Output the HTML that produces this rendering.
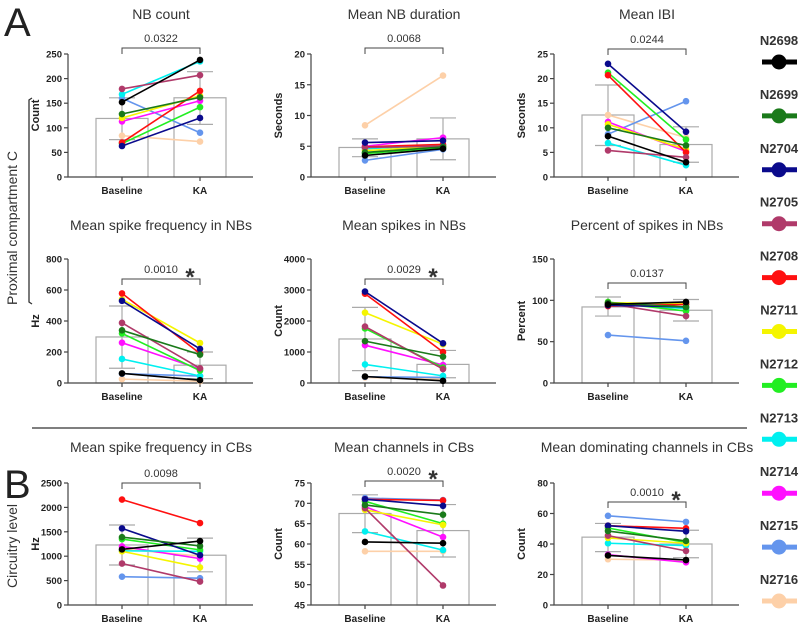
<!DOCTYPE html>
<html><head><meta charset="utf-8"><style>
html,body{margin:0;padding:0;background:#fff;}
svg{display:block;font-family:"Liberation Sans",sans-serif;}
</style></head><body>
<div style="position:relative;width:800px;height:623px">
<svg id="fig" width="800" height="623" viewBox="0 0 800 623" style="position:absolute;left:0;top:0">
<text x="4" y="36" font-size="40" fill="#222">A</text>
<text x="4" y="498" font-size="40" fill="#222">B</text>
<line x1="32" y1="428" x2="747" y2="428" stroke="#333" stroke-width="1.3"/>
<text transform="translate(17,228) rotate(-90)" text-anchor="middle" font-size="14" fill="#333">Proximal compartment C</text>
<path d="M32 98 L29 100 V302 L32 304" stroke="#333" stroke-width="1.3" fill="none"/>
<text transform="translate(17,546) rotate(-90)" text-anchor="middle" font-size="14" fill="#333">Circuitry level</text>
</svg></div>
<script>
const names=["N2698","N2699","N2704","N2705","N2708","N2711","N2712","N2713","N2714","N2715","N2716"];
const colors=["#000000","#1a7a1a","#0a0a8c","#b03a6a","#ff1010","#f5f500","#22ee22","#00f0f0","#ff10ff","#6495ed","#fdd0a8"];
const titles=["NB count","Mean NB duration","Mean IBI","Mean spike frequency in NBs","Mean spikes in NBs","Percent of spikes in NBs","Mean spike frequency in CBs","Mean channels in CBs","Mean dominating channels in CBs"];
const yTitles=["Count","Seconds","Seconds","Hz","Count","Percent","Hz","Count","Count"];
const pvals=["0.0322","0.0068","0.0244","0.0010","0.0029","0.0137","0.0098","0.0020","0.0010"];
const stars=[false,false,false,true,true,false,false,true,true];
const yMin=[0,0,0,0,0,0,0,45,0];
const yMax=[250,20,25,800,4000,150,2500,75,80];
const yStep=[50,5,5,200,1000,50,500,5,20];
const baseVals=[
 [152,128,63,179,70,120,68,168,113,160,84],
 [3.5,4.0,5.6,4.8,4.9,4.3,3.8,4.6,5.0,2.7,8.4],
 [8.3,10,23,5.4,20.7,10.7,21.2,6.9,11.2,8.7,12.6],
 [62,340,530,388,578,540,320,155,260,60,25],
 [210,1350,2950,1820,2880,2270,1760,600,1220,200,180],
 [95,97,94,96,93,97,98,96,95,58,96],
 [1140,1390,1570,850,2160,1100,1350,1110,1200,580,1150],
 [60.5,69.6,71,68.8,71,68.4,70.5,63.1,69.2,71.3,58.2],
 [32.5,48.5,52,45.5,52,44,50.5,40.5,33,58.5,30]];
const kaVals=[
 [238,162,120,207,175,165,142,235,155,90,72],
 [4.6,4.9,5.9,5.0,5.3,5.0,4.8,5.2,6.4,4.5,16.5],
 [3.0,6.4,9.2,4.0,5.0,5.6,7.6,2.4,5.2,15.4,8.0],
 [18,183,220,95,190,258,80,45,90,45,12],
 [70,850,1280,450,1000,1250,500,230,580,180,120],
 [98,92,92,81,95,96,87,90,96,51,95],
 [1310,1210,1020,480,1680,770,1130,1100,950,550,1000],
 [60.2,67.2,69.4,49.8,70.7,64.7,65,58.5,61.7,70.8,58.2],
 [29.5,42,48.3,35.5,50.3,40.5,41,39,28,54.5,29.5]];
const barMeans=[[119,161],[4.8,6.2],[12.6,6.6],[297,115],[1420,600],[92,88],[1230,1020],[67.5,63.3],[44.5,40]];
const errLo=[[76,107],[3.3,2.8],[6.4,3.0],[95,28],[400,170],[81,75],[820,680],[62.8,56.8],[35,31]];
const errHi=[[161,214],[6.2,9.6],[18.7,10.2],[497,200],[2440,1050],[104,101],[1640,1370],[72.1,69.7],[53.5,49]];

const NS="http://www.w3.org/2000/svg";
const svg=document.getElementById("fig");
function mk(tag,attrs,parent,text){const e=document.createElementNS(NS,tag);for(const k in attrs)e.setAttribute(k,attrs[k]);if(text!==undefined)e.textContent=text;(parent||svg).appendChild(e);return e;}

const colX=[68,311,554];
const rowTop=[54,259,483], rowBot=[177,383,605], titleY=[19,230,452];
const brY=[[48,48,49],[279,279,283],[483,481,502]];

for(let p=0;p<9;p++){
 const r=Math.floor(p/3),c=p%3;
 const ax=colX[c],top=rowTop[r],bot=rowBot[r];
 const g=mk("g",{},svg);
 
 
 const y=v=>bot-(v-yMin[p])/(yMax[p]-yMin[p])*(bot-top);
 const xs=[ax+54,ax+132];
 const t=mk("text",{x:ax+93,y:titleY[r],"text-anchor":"middle","font-size":"14",fill:"#333"},g,titles[p]);
 
 
 for(let i=0;i<2;i++){
  const b=mk("rect",{x:xs[i]-26,y:y(barMeans[p][i]),width:52,height:bot-y(barMeans[p][i]),fill:"none",stroke:"#aaa","stroke-width":"1.2"},g);
  
  
  const e=mk("path",{d:`M${xs[i]} ${y(errLo[p][i])}V${y(errHi[p][i])}M${xs[i]-13} ${y(errLo[p][i])}h26M${xs[i]-13} ${y(errHi[p][i])}h26`,stroke:"#aaa","stroke-width":"1.2",fill:"none"},g);
  
  
 }
 const axl=mk("path",{d:`M${ax} ${top}V${bot}H${ax+185}`,stroke:"#444","stroke-width":"1.2",fill:"none"},g);
 
 
 for(let v=yMin[p];v<=yMax[p]+1e-9;v+=yStep[p]){
  mk("line",{x1:ax-4,x2:ax,y1:y(v),y2:y(v),stroke:"#444","stroke-width":"1.2"},g);
  const tl=mk("text",{x:ax-6,y:y(v)+3.5,"text-anchor":"end","font-size":"9.5","font-weight":"bold",fill:"#222"},g,String(v));
  
  
 }
 ["Baseline","KA"].forEach((s,i)=>{
  mk("line",{x1:xs[i],x2:xs[i],y1:bot,y2:bot+4,stroke:"#444","stroke-width":"1.2"},g);
  const xl=mk("text",{x:xs[i],y:bot+17,"text-anchor":"middle","font-size":"10","font-weight":"bold",fill:"#222"},g,s);
  
  
 });
 const yt=mk("text",{x:0,y:0,transform:`translate(${ax-29},${(top+bot)/2}) rotate(-90)`,"text-anchor":"middle","font-size":"11","font-weight":"bold",fill:"#222"},g,yTitles[p]);
 
 
 for(let s=10;s>=0;s--){
  const ln=mk("line",{x1:xs[0],y1:y(baseVals[p][s]),x2:xs[1],y2:y(kaVals[p][s]),stroke:colors[s],"stroke-width":"1.6"},g);
  
  
  [baseVals[p][s],kaVals[p][s]].forEach((v,i)=>{
   const d=mk("circle",{cx:xs[i],cy:y(v),r:3.3,fill:colors[s]},g);
   
   
  });
 }
 const by=brY[r][c];
 const br=mk("path",{d:`M${xs[0]} ${by+6}V${by}H${xs[1]}V${by+6}`,stroke:"#444","stroke-width":"1",fill:"none"},g);
 
 
 const pv=mk("text",{x:(xs[0]+xs[1])/2,y:by-6,"text-anchor":"middle","font-size":"11",fill:"#333"},g,pvals[p]);
 
 
 if(stars[p]){
  const st=mk("text",{x:xs[1]-10,y:by+6,"text-anchor":"middle","font-size":"24","font-weight":"bold",fill:"#333"},g,"*");
  
  
 }
}
for(let s=0;s<11;s++){
 const yy=45+s*53.9;
 const lt=mk("text",{x:779,y:yy,"text-anchor":"middle","font-size":"13","font-weight":"bold",fill:"#333"},svg,names[s]);
 
 
 const ll=mk("line",{x1:762,x2:797,y1:yy+17,y2:yy+17,stroke:colors[s],"stroke-width":"5"},svg);
 
 
 const lc=mk("circle",{cx:779,cy:yy+17,r:7.5,fill:colors[s]},svg);
 
 
}
</script>
</body></html>
